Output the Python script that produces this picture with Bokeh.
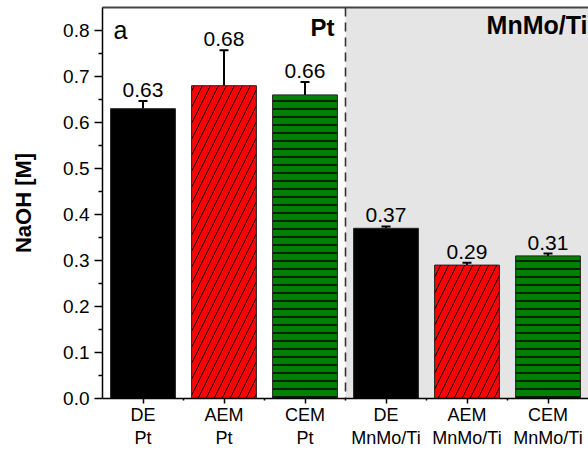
from bokeh.plotting import figure
from bokeh.models import (Range1d, FixedTicker, Whisker, ColumnDataSource, BoxAnnotation,
                          Span, Label, LinearAxis, TeeHead, PrintfTickFormatter)
from bokeh.embed import file_html
from bokeh.resources import INLINE
from bokeh.core.properties import value

# ---- data ----
membranes = ["DE", "AEM", "CEM", "DE", "AEM", "CEM"]
electrodes = ["Pt", "Pt", "Pt", "MnMo/Ti", "MnMo/Ti", "MnMo/Ti"]
naoh = [0.63, 0.68, 0.66, 0.37, 0.29, 0.31]
naoh_err = [0.017, 0.077, 0.028, 0.004, 0.005, 0.005]
value_labels = ["0.63", "0.68", "0.66", "0.37", "0.29", "0.31"]
y_ticks = [0.0, 0.1, 0.2, 0.3, 0.4, 0.5, 0.6, 0.7, 0.8]
y_minor = [0.05, 0.15, 0.25, 0.35, 0.45, 0.55, 0.65, 0.75]

# ---- styles ----
bar_colors = ["#000000", "#ff0000", "#008000", "#000000", "#ff0000", "#008000"]
bar_hatch = [" ", "/", "-", " ", "/", "-"]
hatch_scales = [8, 16, 8, 8, 16, 8]
hatch_weights = [1, 1, 1.5, 1, 1, 1.5]

FONT = "Liberation Sans"

xs = list(range(len(naoh)))
upper = [v + e for v, e in zip(naoh, naoh_err)]
src = ColumnDataSource(dict(x=xs, top=naoh, upper=upper, lab=value_labels,
                            color=bar_colors, hatch=bar_hatch,
                            hscale=hatch_scales, hweight=hatch_weights))

p = figure(width=588, height=450, x_range=Range1d(-0.5, 5.5), y_range=Range1d(0, 0.85),
           output_backend="svg", toolbar_location=None,
           min_border_left=102, min_border_right=0, min_border_top=7, min_border_bottom=52)
p.outline_line_color = None
p.xgrid.visible = False
p.ygrid.visible = False
p.background_fill_color = "white"

# grey region for MnMo/Ti
p.add_layout(BoxAnnotation(left=2.5, fill_color="#e5e5e5", fill_alpha=1.0,
                           line_color=None, level="underlay"))
p.add_layout(Span(location=2.5, dimension="height", line_color="#333333",
                  line_width=1.6, line_dash="9 6"))

p.vbar(x="x", top="top", width=0.8, source=src, fill_color="color",
       line_color="#222222", line_width=1, hatch_pattern="hatch",
       hatch_color="#000000", hatch_scale="hscale", hatch_weight="hweight")

p.add_layout(Whisker(base="x", upper="upper", lower="top", source=src,
                     line_color="black", line_width=2,
                     upper_head=TeeHead(size=9, line_width=2, line_color="black"),
                     lower_head=None))

p.text(x="x", y="upper", text="lab", source=src, text_align="center",
       text_baseline="alphabetic", y_offset=-11, text_font=value(FONT),
       text_font_size="21px", text_color="black")

# panel labels
p.add_layout(Label(x=-0.364, y=0.801, text="a", text_font=FONT, text_font_size="25px",
                   text_color="black", text_align="left", text_baseline="alphabetic"))
p.add_layout(Label(x=2.364, y=0.807, text="Pt", text_font=FONT, text_font_size="24px",
                   text_font_style="bold", text_color="black", text_align="right",
                   text_baseline="alphabetic"))
p.add_layout(Label(x=5.488, y=0.811, text="MnMo/Ti", text_font=FONT, text_font_size="25px",
                   text_font_style="bold", text_color="black", text_align="right",
                   text_baseline="alphabetic"))

# y axis
ya = p.yaxis[0]
ya.ticker = FixedTicker(ticks=y_ticks, minor_ticks=y_minor)
ya.formatter = PrintfTickFormatter(format="%.1f")
ya.axis_label = "NaOH [M]"
ya.axis_label_text_font = FONT
ya.axis_label_text_font_size = "22px"
ya.axis_label_text_font_style = "bold"
ya.axis_label_text_color = "black"
ya.axis_label_standoff = 24
ya.major_label_text_font = FONT
ya.major_label_text_font_size = "19px"
ya.major_label_text_color = "black"
ya.major_label_standoff = 5
ya.major_tick_out = 8
ya.major_tick_in = 0
ya.minor_tick_out = 4
ya.minor_tick_in = 0
ya.axis_line_width = 1.5
ya.axis_line_color = "black"
ya.major_tick_line_width = 1.5
ya.minor_tick_line_width = 1.5

# x axis: membrane names
xa = p.xaxis[0]
xa.ticker = FixedTicker(ticks=xs, minor_ticks=[0.5, 1.5, 2.5, 3.5, 4.5])
xa.major_label_overrides = {i: m for i, m in enumerate(membranes)}
xa.major_label_text_font = FONT
xa.major_label_text_font_size = "18px"
xa.major_label_text_color = "black"
xa.major_label_standoff = 1
xa.major_tick_out = 5
xa.major_tick_in = 0
xa.minor_tick_out = 2
xa.minor_tick_in = 0
xa.axis_line_width = 1.5
xa.axis_line_color = "black"
xa.major_tick_line_width = 1.5
xa.minor_tick_line_width = 1.5

# second line of category labels: electrodes
xa2 = LinearAxis(ticker=FixedTicker(ticks=xs),
                 major_label_overrides={i: e for i, e in enumerate(electrodes)},
                 major_label_text_font=FONT, major_label_text_font_size="18px",
                 major_label_text_color="black", major_label_standoff=0,
                 major_tick_out=0, major_tick_in=0, minor_tick_out=0, minor_tick_in=0,
                 axis_line_color=None)
p.add_layout(xa2, "below")

# top frame line
top = LinearAxis(major_label_text_font_size="0px", major_tick_out=0, major_tick_in=0,
                 minor_tick_out=0, minor_tick_in=0, axis_line_color="#444444",
                 axis_line_width=2, ticker=FixedTicker(ticks=[]))
p.add_layout(top, "above")

open("out.html", "w").write(file_html(p, INLINE))
